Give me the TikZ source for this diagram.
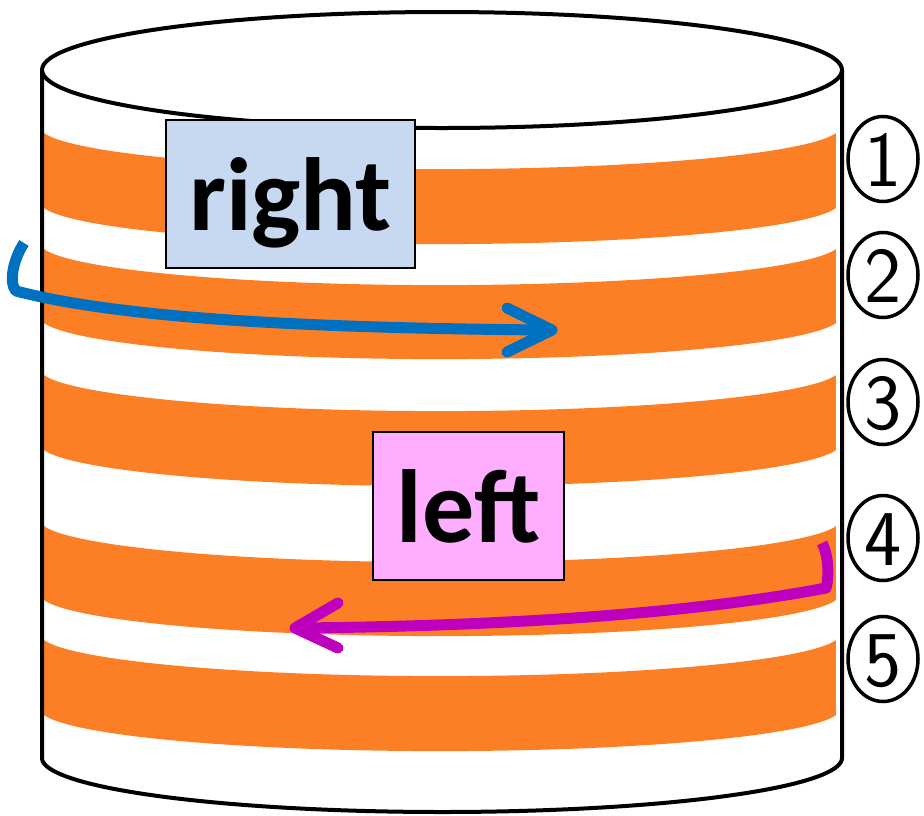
\documentclass[tikz,border=0pt]{standalone}
\usepackage{fontspec}
\newfontfamily\calib{Carlito}
\usetikzlibrary{shapes.geometric}
\definecolor{bandorange}{RGB}{252,127,38}
\definecolor{rightblue}{RGB}{198,217,241}
\definecolor{leftpink}{RGB}{255,173,255}
\definecolor{arrowblue}{RGB}{0,112,192}
\definecolor{arrowmag}{RGB}{190,0,190}
\tikzset{
  outline/.style={line width=4pt, black},
  labelbox/.style={draw=black, line width=1.5pt, inner sep=0pt, text height=110pt, text depth=38pt,
    font=\calib\bfseries\fontsize{104}{104}\selectfont},
  numcircle/.style={draw=black, ellipse, line width=3.5pt, inner sep=0pt, minimum width=70pt, minimum height=85pt,
    font=\sffamily\fontsize{79}{79}\selectfont, text height=54pt, text depth=0pt},
  turnarrow/.style={line width=11pt, line cap=butt, line join=round},
  barb/.style={line width=11pt, line cap=round, line join=round},
}
\begin{document}
\begin{tikzpicture}[x=1pt,y=-1pt]
\useasboundingbox (0,0) rectangle (924,815);
% bands
\foreach \T/\B in {133/208, 249/323, 375/450, 526/600, 640/715} {
  \fill[bandorange] plot[domain=8.11:171.89, samples=80, variable=\t] ({440+400*cos(\t)},{\T-5.9+42*sin(\t)})
    -- plot[domain=171.89:8.11, samples=80, variable=\t] ({440+400*cos(\t)},{\B-5.9+42*sin(\t)}) -- cycle;
}
% cylinder
\draw[outline] (442,70) ellipse [x radius=400, y radius=58];
\draw[outline, line join=round] (42,70) -- (42,758)
  plot[domain=180:0, samples=90, variable=\t] ({442+400*cos(\t)},{758+54*sin(\t)}) -- (842,70);
% label boxes
\node[labelbox, fill=rightblue, minimum width=249pt] (rightbox) at (290.5,194) {right};
\node[labelbox, fill=leftpink, minimum width=191pt] (leftbox) at (468.5,506) {left};
% numbers
\node[numcircle] (n1) at (883,159) {1};
\node[numcircle] (n2) at (883,275) {2};
\node[numcircle] (n3) at (883,402) {3};
\node[numcircle] (n4) at (883,538) {4};
\node[numcircle] (n5) at (883,659) {5};
% blue arrow
\coordinate (bs) at (24,243);
\coordinate (be) at (548,330);
\draw[turnarrow, arrowblue] (bs) .. controls (14,258) and (8,282) .. (16,291)
  .. controls (120,318) and (300,328) .. (be);
\draw[barb, arrowblue] (507,308) -- (552,330) -- (507,352);
% magenta arrow
\coordinate (ms) at (822,543);
\coordinate (me) at (298,628);
\draw[turnarrow, arrowmag] (ms) .. controls (829,556) and (829,578) .. (826,588)
  .. controls (700,612) and (520,626) .. (me);
\draw[barb, arrowmag] (338,603) -- (295,628) -- (338,648);
\end{tikzpicture}
\end{document}
